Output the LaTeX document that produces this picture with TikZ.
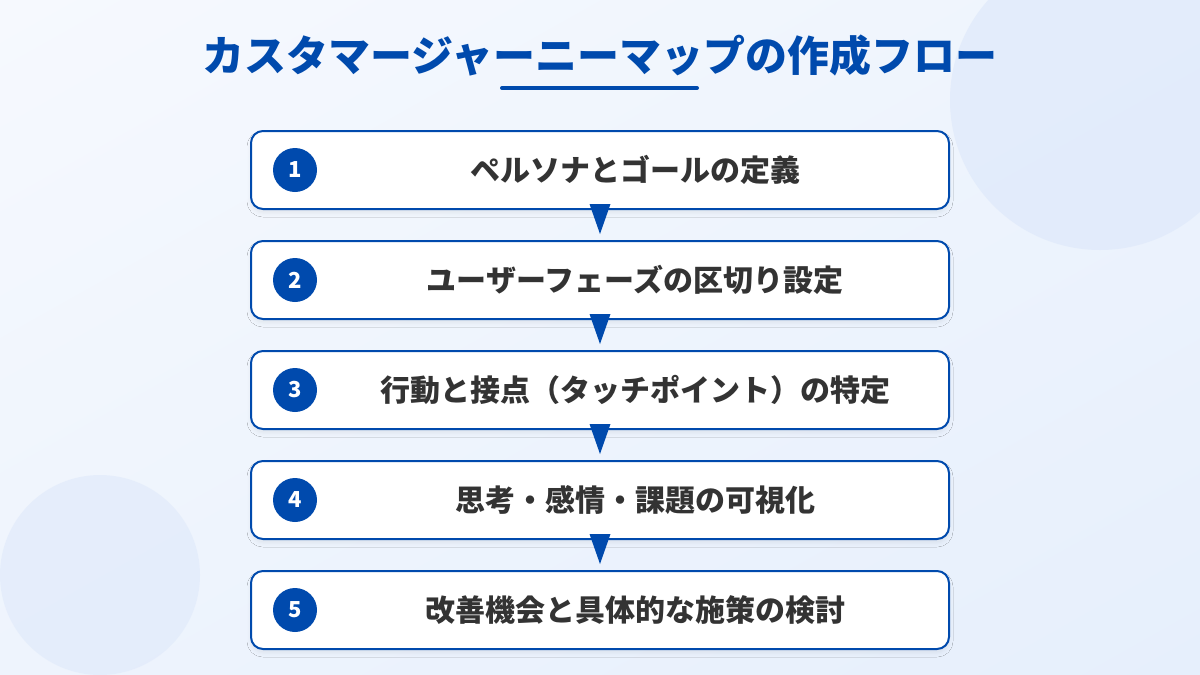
\documentclass[tikz,border=0pt]{standalone}
\usepackage{fontspec}
\setmainfont{Noto Sans CJK JP}
\usetikzlibrary{shadings,shadows.blur}

\definecolor{mainblue}{HTML}{004AAD}
\definecolor{textgray}{HTML}{333333}
\definecolor{bgtop}{HTML}{F6F9FE}
\definecolor{bgmid}{HTML}{EEF4FD}
\definecolor{bgbottom}{HTML}{E6EFFC}
\definecolor{blob}{HTML}{DCE7FA}

\tikzset{
	stepbox/.style={draw=mainblue, line width=2pt, fill=white, rounded corners=12pt,
		minimum width=698pt, minimum height=78pt,
		blur shadow={shadow xshift=0pt, shadow yshift=-4pt, shadow blur radius=4pt, shadow opacity=6}},
	badge/.style={circle, fill=mainblue, minimum size=44pt, inner sep=0pt,
		text=white, font=\fontsize{22}{22}\selectfont\bfseries},
	steplabel/.style={text=textgray, font=\fontsize{30}{30}\selectfont\bfseries},
	flowarrow/.style={fill=mainblue},
}

\begin{document}
\begin{tikzpicture}[x=1pt, y=-1pt]
		\useasboundingbox (0,0) rectangle (1200,675);
		% background
		\shade[upper left=bgtop, upper right=bgmid, lower left=bgmid, lower right=bgbottom]
			(0,0) rectangle (1200,675);
		\begin{scope}
			\clip (0,0) rectangle (1200,675);
			\fill[blob, opacity=0.6] (1100,100) circle (150);
			\fill[blob, opacity=0.5] (100,575) circle (100);
		\end{scope}
		% title
		\node[font=\fontsize{42}{42}\selectfont\bfseries, text=mainblue] (title) at (600,56)
			{カスタマージャーニーマップの作成フロー};
		\draw[mainblue, line width=4pt, line cap=round] (502,88) -- (697,88);
		% steps
		\foreach \txt [count=\i] in {ペルソナとゴールの定義, ユーザーフェーズの区切り設定,
			行動と接点（タッチポイント）の特定, 思考・感情・課題の可視化,
			改善機会と具体的な施策の検討}{
			\node[stepbox] (s\i) at (600,{60+110*\i}) {};
			\node[badge] (n\i) at (295,{60+110*\i}) {\i};
			\node[steplabel] (t\i) at (635,{60+110*\i}) {\txt};
		}
		\foreach \i/\j in {1/2,2/3,3/4,4/5}
			\fill[flowarrow] ([xshift=-10.5pt,yshift=6pt]s\i.south) -- ([xshift=10.5pt,yshift=6pt]s\i.south)
				-- ([yshift=6pt]s\j.north) -- cycle;
	\end{tikzpicture}
\end{document}
